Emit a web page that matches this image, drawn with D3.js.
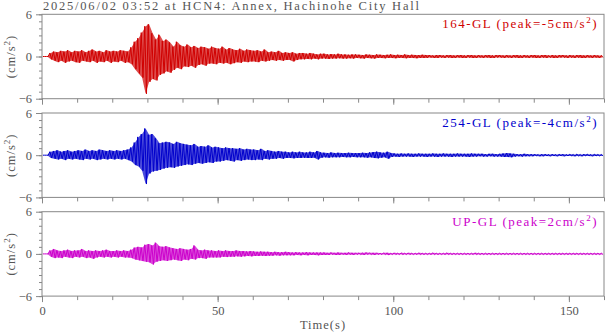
<!DOCTYPE html>
<html>
<head>
<meta charset="utf-8">
<script src="https://cdn.jsdelivr.net/npm/d3@7"></script>
<style>
  body { margin: 0; background: #fff; }
  text { font-family: "Liberation Serif", "DejaVu Serif", serif; }
</style>
</head>
<body>
<div id="wave_dataviz"></div>
<script>
// chart text
var title = "2025/06/02 03:52 at HCN4: Annex, Hachinohe City Hall";
var channels = ["164-GL", "254-GL", "UP-GL"];
var peaks = ["-5", "-4", "2"];
var colors = ["#d00000", "#0000cc", "#cc00cc"];
var yTicks = [-6, 0, 6];
var xTicks = [0, 50, 100, 150];

// per-second max / min of each trace (cm/s2)
var hi164 = [0,0,0.5,0.7,0.6,0.8,0.7,0.9,0.6,0.8, 0.7,0.9,0.6,0.8,1.0,0.7,0.8,0.6,0.9,0.7,
  0.8,0.7,0.9,0.8,0.7,1.3,2.1,2.6,3.4,4.3, 4.6,3.3,2.4,3.1,2.2,2.4,2.0,1.4,2.1,1.6,
  1.4,1.7,1.3,1.5,1.2,1.4,1.3,1.1,1.4,1.2, 1.1,1.4,1.0,1.2,1.0,0.9,1.1,0.8,1.0,0.9,
  0.8,0.9,0.7,1.0,0.6,0.7,0.6,0.8,0.5,0.6, 0.5,0.6,0.4,0.5,0.5,0.4,0.5,0.4,0.3,0.4,
  0.4,0.3,0.35,0.3,0.4,0.3,0.3,0.25,0.3,0.3, 0.25,0.2,0.3,0.25,0.2,0.3,0.25,0.2,0.25,0.3,
  0.2,0.25,0.2,0.3,0.2,0.25,0.2,0.2,0.25,0.2, 0.2,0.15,0.2,0.2,0.15,0.2,0.2,0.15,0.2,0.2,
  0.15,0.2,0.2,0.15,0.2,0.15,0.2,0.2,0.15,0.2, 0.2,0.15,0.2,0.15,0.2,0.2,0.15,0.2,0.15,0.2,
  0.2,0.15,0.2,0.2,0.15,0.2,0.15,0.2,0.2,0.15, 0.2,0.15,0.2,0.2,0.15,0.2,0.15,0.2,0.15,0.15];
var lo164 = [0,0,-0.4,-0.6,-0.8,-0.6,-0.9,-0.7,-0.6,-0.8, -0.9,-0.6,-0.7,-0.8,-0.6,-0.9,-0.7,-0.8,-0.6,-0.9,
  -0.7,-0.8,-0.6,-0.9,-0.8,-1.1,-1.8,-2.4,-3.0,-5.3, -3.6,-3.2,-3.4,-2.6,-2.4,-2.1,-2.3,-1.9,-1.6,-1.8,
  -1.4,-1.5,-1.3,-1.6,-1.2,-1.1,-1.3,-1.0,-1.0,-1.1, -0.9,-1.0,-0.9,-1.1,-0.95,-0.8,-0.9,-0.7,-0.8,-0.7,
  -0.7,-0.8,-0.6,-0.7,-0.6,-0.5,-0.6,-0.5,-0.6,-0.5, -0.5,-0.7,-0.5,-0.4,-0.4,-0.35,-0.4,-0.3,-0.4,-0.3,
  -0.3,-0.35,-0.3,-0.3,-0.25,-0.3,-0.3,-0.25,-0.3,-0.2, -0.25,-0.3,-0.2,-0.25,-0.3,-0.2,-0.2,-0.25,-0.2,-0.2,
  -0.25,-0.2,-0.2,-0.25,-0.2,-0.2,-0.25,-0.2,-0.2,-0.2, -0.15,-0.2,-0.2,-0.15,-0.2,-0.15,-0.2,-0.2,-0.15,-0.2,
  -0.2,-0.15,-0.2,-0.2,-0.15,-0.2,-0.15,-0.2,-0.2,-0.15, -0.15,-0.2,-0.15,-0.2,-0.15,-0.2,-0.2,-0.15,-0.2,-0.15,
  -0.2,-0.2,-0.15,-0.2,-0.15,-0.2,-0.2,-0.15,-0.15,-0.2, -0.15,-0.2,-0.15,-0.2,-0.2,-0.15,-0.2,-0.15,-0.2,-0.15];

var hi254 = [0,0,0.5,0.6,0.7,0.5,0.6,0.7,0.5,0.6, 0.7,0.6,0.8,0.6,0.7,0.6,0.8,0.7,0.6,0.7,
  0.6,0.7,0.6,0.7,0.8,1.1,1.8,2.6,3.0,3.8, 2.9,3.0,2.4,1.7,1.8,1.9,1.8,1.6,1.9,1.7,
  1.6,1.5,1.4,1.6,1.2,1.3,1.2,1.4,1.1,1.2, 1.1,1.0,1.1,1.0,1.0,0.9,1.0,0.8,0.9,0.8,
  0.8,0.7,0.9,0.6,0.7,0.6,0.5,0.6,0.5,0.5, 0.4,0.5,0.4,0.5,0.4,0.4,0.5,0.4,0.6,0.4,
  0.35,0.3,0.4,0.3,0.35,0.3,0.3,0.35,0.3,0.3, 0.3,0.35,0.3,0.4,0.45,0.5,0.4,0.35,0.5,0.3,
  0.25,0.2,0.25,0.2,0.25,0.2,0.2,0.25,0.2,0.2, 0.2,0.25,0.2,0.2,0.25,0.2,0.2,0.2,0.25,0.2,
  0.2,0.2,0.25,0.2,0.2,0.2,0.15,0.2,0.2,0.15, 0.2,0.25,0.3,0.25,0.2,0.15,0.15,0.2,0.15,0.15,
  0.15,0.1,0.15,0.15,0.1,0.15,0.1,0.15,0.15,0.1, 0.15,0.1,0.15,0.1,0.15,0.15,0.1,0.15,0.1,0.1];
var lo254 = [0,0,-0.4,-0.5,-0.6,-0.5,-0.7,-0.5,-0.6,-0.5, -0.6,-0.7,-0.5,-0.6,-0.5,-0.7,-0.6,-0.5,-0.6,-0.5,
  -0.6,-0.5,-0.6,-0.5,-0.7,-0.9,-1.4,-1.6,-2.2,-4.1, -2.6,-2.3,-2.2,-2.1,-1.9,-1.8,-1.7,-1.8,-1.6,-1.5,
  -1.4,-1.3,-1.4,-1.2,-1.1,-1.2,-1.1,-1.0,-1.1,-0.9, -0.9,-0.8,-0.7,-0.8,-0.9,-0.7,-0.8,-0.7,-0.6,-0.7,
  -0.7,-0.6,-0.7,-0.5,-0.6,-0.5,-0.5,-0.4,-0.5,-0.4, -0.4,-0.45,-0.4,-0.4,-0.35,-0.4,-0.4,-0.35,-0.6,-0.35,
  -0.3,-0.35,-0.3,-0.3,-0.3,-0.25,-0.3,-0.3,-0.25,-0.3, -0.3,-0.3,-0.35,-0.3,-0.4,-0.45,-0.35,-0.3,-0.5,-0.25,
  -0.2,-0.25,-0.2,-0.2,-0.2,-0.25,-0.2,-0.2,-0.2,-0.25, -0.2,-0.2,-0.25,-0.2,-0.2,-0.2,-0.25,-0.2,-0.2,-0.2,
  -0.2,-0.25,-0.2,-0.2,-0.15,-0.2,-0.2,-0.15,-0.2,-0.2, -0.2,-0.25,-0.25,-0.3,-0.2,-0.15,-0.2,-0.15,-0.15,-0.15,
  -0.1,-0.15,-0.15,-0.1,-0.15,-0.1,-0.15,-0.1,-0.15,-0.1, -0.1,-0.15,-0.1,-0.15,-0.1,-0.1,-0.15,-0.1,-0.1,-0.1];

var hiUP = [0,0,0.5,0.7,0.5,0.4,0.5,0.6,0.4,0.5, 0.5,0.7,0.4,0.5,0.4,0.5,0.4,0.5,0.6,0.4,
  0.4,0.5,0.4,0.5,0.4,0.6,0.9,1.0,0.9,1.3, 1.4,1.2,1.6,1.1,1.0,1.1,0.9,0.8,0.7,0.8,
  0.7,0.6,0.7,1.2,0.6,0.5,0.6,0.5,0.5,0.4, 0.5,0.4,0.5,0.4,0.4,0.5,0.4,0.4,0.35,0.4,
  0.35,0.3,0.35,0.3,0.3,0.25,0.3,0.25,0.25,0.3, 0.25,0.2,0.25,0.2,0.2,0.25,0.2,0.2,0.2,0.2,
  0.2,0.15,0.2,0.15,0.2,0.15,0.15,0.2,0.15,0.15, 0.15,0.15,0.2,0.15,0.15,0.15,0.1,0.15,0.15,0.1,
  0.15,0.1,0.15,0.1,0.15,0.1,0.1,0.15,0.1,0.1, 0.1,0.15,0.1,0.1,0.1,0.15,0.1,0.1,0.1,0.1,
  0.1,0.1,0.1,0.15,0.1,0.1,0.1,0.1,0.1,0.1, 0.1,0.1,0.1,0.1,0.1,0.1,0.1,0.1,0.1,0.1,
  0.1,0.1,0.1,0.1,0.1,0.1,0.1,0.1,0.1,0.1, 0.1,0.1,0.1,0.1,0.1,0.1,0.1,0.1,0.1,0.1];
var loUP = [0,0,-0.4,-0.6,-0.5,-0.6,-0.4,-0.5,-0.6,-0.4, -0.5,-0.4,-0.6,-0.5,-0.7,-0.5,-0.4,-0.5,-0.4,-0.5,
  -0.4,-0.5,-0.4,-0.5,-0.5,-0.6,-0.8,-0.9,-1.0,-1.1, -1.2,-1.5,-1.1,-1.0,-0.9,-1.0,-0.9,-0.8,-0.9,-1.0,
  -0.8,-0.9,-0.7,-0.8,-0.6,-0.6,-0.7,-0.5,-0.5,-0.5, -0.5,-0.4,-0.45,-0.4,-0.4,-0.35,-0.4,-0.35,-0.3,-0.35,
  -0.3,-0.3,-0.25,-0.3,-0.25,-0.25,-0.2,-0.25,-0.2,-0.2, -0.2,-0.2,-0.15,-0.2,-0.15,-0.2,-0.15,-0.15,-0.2,-0.15,
  -0.15,-0.15,-0.1,-0.15,-0.15,-0.1,-0.15,-0.1,-0.15,-0.1, -0.1,-0.15,-0.1,-0.1,-0.15,-0.1,-0.1,-0.1,-0.15,-0.1,
  -0.1,-0.1,-0.1,-0.1,-0.1,-0.1,-0.1,-0.1,-0.1,-0.1, -0.1,-0.1,-0.1,-0.1,-0.1,-0.1,-0.1,-0.1,-0.1,-0.1,
  -0.1,-0.1,-0.1,-0.1,-0.1,-0.1,-0.1,-0.1,-0.1,-0.1, -0.1,-0.1,-0.1,-0.1,-0.1,-0.1,-0.1,-0.1,-0.1,-0.1,
  -0.1,-0.1,-0.1,-0.1,-0.1,-0.1,-0.1,-0.1,-0.1,-0.1, -0.1,-0.1,-0.1,-0.1,-0.1,-0.1,-0.1,-0.1,-0.1,-0.1];

var traces = [[hi164, lo164], [hi254, lo254], [hiUP, loUP]];

// dimensions
var width = 605, height = 334;
var margin = {left: 42, right: 1, top: 14.3},
    panelH = 84.4,
    panelStep = 98.7;
var frameColor = "#888", textColor = "#555";

var svg = d3.select("#wave_dataviz")
  .append("svg")
    .attr("width", width)
    .attr("height", height);

var x = d3.scaleLinear()
  .domain([0, 160])
  .range([margin.left, width - margin.right]);

// title
svg.append("text")
  .attr("x", 43)
  .attr("y", 9.5)
  .attr("font-size", 12.5)
  .attr("fill", textColor)
  .attr("textLength", 376)
  .attr("lengthAdjust", "spacing")
  .text(title);

traces.forEach(function(tr, i) {
  var top = margin.top + i * panelStep;
  var y = d3.scaleLinear()
    .domain([-6, 6])
    .range([top + panelH, top]);

  var g = svg.append("g");

  // light envelope band, then one max and one min per second on top
  var bins = tr[0].map(function(v, k) { return {t: k + 0.5, hi: v, lo: tr[1][k]}; });
  var pts = [];
  tr[0].forEach(function(v, k) {
    pts.push({t: k + 0.25, v: v});
    pts.push({t: k + 0.75, v: tr[1][k]});
  });

  g.append("path")
    .datum(bins)
    .attr("fill", colors[i])
    .attr("fill-opacity", 0.7)
    .attr("d", d3.area()
      .x(function(d) { return x(d.t) })
      .y0(function(d) { return y(d.lo) })
      .y1(function(d) { return y(d.hi) })
      );

  g.append("path")
    .datum(pts)
    .attr("fill", "none")
    .attr("stroke", colors[i])
    .attr("stroke-width", 1)
    .attr("d", d3.line()
      .x(function(d) { return x(d.t) })
      .y(function(d) { return y(d.v) })
      );

  // frame
  g.append("rect")
    .attr("x", x(0))
    .attr("y", top)
    .attr("width", x(160) - x(0))
    .attr("height", panelH)
    .attr("fill", "none")
    .attr("stroke", frameColor);

  // y ticks: minor every 1, major with labels
  var yMinor = g.append("g")
    .attr("transform", "translate(" + x(0) + ",0)")
    .call(d3.axisLeft(y).tickValues(d3.range(-6, 7)).tickSize(3).tickFormat(""));
  var yMajor = g.append("g")
    .attr("transform", "translate(" + x(0) + ",0)")
    .call(d3.axisLeft(y).tickValues(yTicks).tickSize(6).tickPadding(4));

  // x ticks under every panel
  var xMinor = g.append("g")
    .attr("transform", "translate(0," + (top + panelH) + ")")
    .call(d3.axisBottom(x).tickValues(d3.range(0, 161, 10)).tickSize(4).tickFormat(""));
  var xMajor = g.append("g")
    .attr("transform", "translate(0," + (top + panelH) + ")")
    .call(d3.axisBottom(x).tickValues(xTicks).tickSize(6).tickPadding(4)
      .tickFormat(i == 2 ? d3.format("d") : ""));

  [yMinor, yMajor, xMinor, xMajor].forEach(function(a) {
    a.select(".domain").remove();
    a.selectAll("line").attr("stroke", frameColor);
    a.selectAll("text")
      .attr("fill", textColor)
      .attr("font-size", 12.5)
      .style("font-family", "Liberation Serif, serif");
  });

  // y axis label
  var yl = g.append("text")
    .attr("transform", "translate(15," + (top + panelH / 2) + ") rotate(-90)")
    .attr("text-anchor", "middle")
    .attr("font-size", 12.5)
    .attr("letter-spacing", 1)
    .attr("fill", textColor);
  yl.append("tspan").text("(cm/s");
  yl.append("tspan").attr("dy", -5).attr("font-size", 9).text("2");
  yl.append("tspan").attr("dy", 5).text(")");

  // channel label
  var lab = g.append("text")
    .attr("x", 598)
    .attr("y", top + 14)
    .attr("text-anchor", "end")
    .attr("font-size", 13)
    .attr("letter-spacing", 1.5)
    .attr("fill", colors[i]);
  lab.append("tspan").text(channels[i] + " (peak=" + peaks[i] + "cm/s");
  lab.append("tspan").attr("dy", -5).attr("font-size", 9).text("2");
  lab.append("tspan").attr("dy", 5).text(")");
});

// x axis label
svg.append("text")
  .attr("x", (x(0) + x(160)) / 2)
  .attr("y", 328.5)
  .attr("text-anchor", "middle")
  .attr("font-size", 12.5)
  .attr("letter-spacing", 1)
  .attr("fill", textColor)
  .text("Time(s)");
</script>
</body>
</html>
